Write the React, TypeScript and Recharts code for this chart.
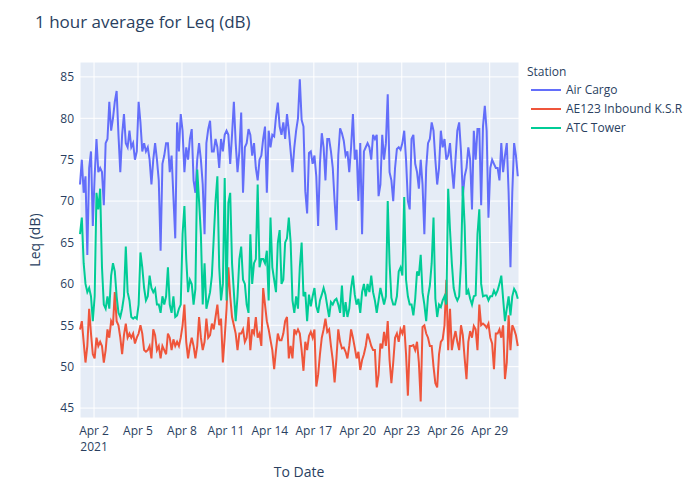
import { LineChart, Line, XAxis, YAxis, CartesianGrid } from 'recharts';

// hourly Leq readings, sampled every 3 h from Apr 1 01:00 (8 values per day)
const airCargo = [
  72, 75, 71, 73, 63.5, 74, 76, 67,
  73, 77.5, 73.5, 74, 73.5, 69.5, 77, 77.5,
  82, 78.5, 80, 82, 83.3, 78, 73.5, 78,
  80.5, 77, 76.5, 78.5, 76.5, 77, 75, 76,
  82, 79.5, 76, 77, 76, 76.5, 75, 72,
  75, 77, 75, 72.5, 64, 74.5, 75.5, 77,
  77, 73.5, 75.5, 70.5, 65.5, 79.5, 76, 80.5,
  78.5, 73.5, 76.5, 75, 77.5, 78.7, 72.5, 71,
  75, 77, 75, 72, 66, 77, 78.7, 79.7,
  76, 76, 77.5, 76.5, 74, 77.5, 76, 78,
  78.5, 78, 74.5, 78, 82, 77, 73.5, 76,
  80.7, 71, 76.5, 77, 78.7, 78, 75.5, 77,
  74, 72.5, 75, 75.5, 77.5, 79, 71, 78.5,
  76.5, 78, 77.8, 80.2, 81.9, 79, 78, 79.5,
  77.5, 80.5, 78.5, 76, 73.5, 76.5, 78.5, 80,
  84.7, 79.8, 79, 71.2, 68.5, 75.8, 76, 74.5,
  75.5, 73, 67, 74.5, 78.2, 76.5, 72.5, 77.5,
  77.5, 76, 74, 70, 66.5, 75.5, 78.8, 78.2,
  77.3, 75.5, 76, 73.5, 76.5, 80.5, 75, 76.2,
  70, 77, 66, 76, 76.5, 77, 76.5, 75,
  78, 77.5, 78, 70.6, 72, 78, 75, 77,
  82.9, 73.5, 72.5, 70, 74, 76.3, 76.5, 76.2,
  77, 78.5, 75, 70, 69, 77.5, 78, 74.5,
  73.5, 71.5, 75, 72, 66, 74, 77, 77.5,
  79.5, 78.5, 75, 72, 74, 78.5, 76.5, 77.5,
  75, 75.5, 77, 74, 71.5, 75, 78.5, 79.5,
  76, 70.6, 73, 74, 76.5, 75, 69, 78.5,
  75, 78.7, 78.7, 69.5, 79, 81.5, 78.5, 68,
  74, 75, 74.5, 74, 74, 72.5, 77, 73.5,
  75.5, 77, 71, 62, 71, 77, 75.5, 73,
];

const ae123 = [
  54.5, 55.5, 53, 50.5, 52.5, 57, 54, 51.5,
  51, 53.5, 52.5, 53, 52.5, 50.5, 52, 54.5,
  53.5, 55.5, 55, 59, 55.5, 55, 53.5, 51.5,
  53.8, 55.2, 53.5, 54, 53.5, 54, 52.8, 53.5,
  54, 55, 54, 52, 51.8, 52, 52.5, 51,
  54.5, 53.8, 52, 52.5, 51, 52.5, 52, 51.5,
  54, 53.5, 52, 53.3, 52.5, 53, 52.5, 53.5,
  55, 57.5, 53, 51, 52.5, 53.5, 52.5, 51,
  52.5, 56, 53.5, 52, 53, 55.8, 53.5, 53.8,
  55.2, 54.5, 56, 57.5, 55, 55.8, 50.5, 53.5,
  57, 62, 58.5, 56, 55, 54, 52, 54,
  54, 54.5, 53, 53.5, 56, 52, 54.5, 54,
  56, 53.5, 54, 52.5, 59.5, 57.5, 55.5, 54.5,
  53.2, 52, 49.7, 52, 54, 53.2, 53.2, 54,
  55.5, 56, 51, 52.5, 51, 54.5, 54, 54.5,
  54, 52, 49.5, 53, 52, 53.7, 54.2, 53.5,
  54.5, 47.6, 49, 51.5, 53.5, 54.5, 55.8, 54.2,
  54.5, 52.5, 50.8, 48.1, 51, 54.5, 53, 52.2,
  52.3, 51.8, 51, 52.5, 54.5, 53.5, 52.3, 51,
  51.8, 49.6, 50.8, 51.5, 52.5, 54, 53.3, 52.5,
  52, 52, 47.5, 49, 52.8, 52.2, 54.2, 52.5,
  55.5, 50.8, 48, 50.5, 53.5, 54, 53, 54.5,
  54, 55, 51.5, 46.5, 52.5, 52.5, 52.6, 52,
  53, 50.5, 45.8, 54.8, 55, 54, 53.5, 52.5,
  52.5, 50, 48, 47.5, 51.5, 53, 53.3, 55,
  60.5, 52, 57, 52, 53.3, 54.3, 53, 52,
  55, 53.8, 51, 48.5, 53, 54.3, 53.5, 54.9,
  54.5, 52, 57.5, 55, 55.2, 55, 54.7, 55.2,
  53.5, 52.8, 49.7, 54, 54, 54.5, 53.5, 55,
  48.5, 50.5, 56.2, 52, 55, 54.5, 53.8, 52.5,
];

const atcTower = [
  66, 68, 62.5, 60, 59, 59.5, 58.5, 55.5,
  58.5, 71, 69, 71.5, 62, 57.5, 57, 58.5,
  57, 61, 62.5, 61.5, 58.5, 56.5, 56, 57,
  58.5, 64.5, 59, 58, 56, 55.8, 56, 55.8,
  57.5, 63.8, 62, 59.5, 58, 58.5, 61, 59.5,
  59, 59.4, 57.5, 57.5, 56.5, 58.5, 57.5, 58.5,
  62, 57.5, 56.5, 58.5, 56, 56.2, 57, 57.5,
  66, 69.4, 63, 59, 60.5, 60, 57.5, 59.4,
  73.8, 70, 66, 57.5, 62.5, 57, 58, 59,
  61, 65.5, 70, 73, 62, 58, 60, 72.8,
  58, 69.8, 71, 62.5, 59, 55.5, 58.5, 63,
  64.5, 60.5, 60, 57.5, 56.5, 66, 60, 62.5,
  63, 72, 62, 63, 63, 62.5, 64, 58,
  68, 62, 60.5, 59, 65, 66.5, 60, 60.5,
  65, 65.5, 68, 65, 58, 56.5, 58.5, 57,
  62, 65, 58.5, 59, 55.5, 58.7, 57.3, 58.5,
  59.5, 57.3, 56.5, 58, 58.7, 59.5, 58.7, 57.3,
  56, 57.8, 57.5, 58, 58.2, 57.5, 56.5, 59.8,
  56, 57.8, 56, 57, 59.5, 61, 58.7, 57.5,
  58.2, 56.5, 59, 60, 58.5, 60, 59, 61,
  59, 58, 56.5, 58, 59.5, 58.5, 57.5, 58.5,
  70, 62.5, 58.3, 57.5, 57.5, 58.5, 61.5, 62,
  61, 70.5, 60.5, 58.5, 57.5, 57.5, 56.2, 58.2,
  61.5, 61, 63.5, 59, 57.5, 55.5, 58.5, 59.8,
  62.5, 68, 58.2, 56, 57.5, 57.2, 58, 58.5,
  57.5, 71.5, 66.5, 62.5, 59.5, 58.5, 58, 58.5,
  62.5, 71.8, 67, 58.7, 59.2, 58.2, 57.5, 58.5,
  58.6, 66, 69, 60, 58.5, 58.6, 58.6, 58,
  58.5, 58.5, 59.2, 58.7, 59.2, 60, 61, 58.2,
  55.5, 57, 58.5, 56.2, 58.5, 59.4, 59, 58.2,
];

const START_HOUR = 1; // Apr 1 01:00, hours counted from Apr 1 00:00
const STEP_HOURS = 3;

const xTickDays = [2, 5, 8, 11, 14, 17, 20, 23, 26, 29];
const xTickLabels = ['Apr 2', 'Apr 5', 'Apr 8', 'Apr 11', 'Apr 14', 'Apr 17', 'Apr 20', 'Apr 23', 'Apr 26', 'Apr 29'];
const yTicks = [45, 50, 55, 60, 65, 70, 75, 80, 85];

const SERIES = [
  { key: 'airCargo', name: 'Air Cargo', color: '#636efa' },
  { key: 'ae123', name: 'AE123 Inbound K.S.R', color: '#ef553b' },
  { key: 'atcTower', name: 'ATC Tower', color: '#00cc96' },
];

const rows = airCargo.map((v, i) => ({
  t: START_HOUR + i * STEP_HOURS,
  airCargo: v,
  ae123: ae123[i],
  atcTower: atcTower[i],
}));

const FONT = '"Open Sans", verdana, arial, sans-serif';
const INK = '#2a3f5f';

function DateTick({ x, y, index }: any) {
  return (
    <text x={x} y={y} textAnchor="middle" fill={INK} fontSize={12} fontFamily={FONT}>
      <tspan x={x} dy="0.71em">{xTickLabels[index]}</tspan>
      {index === 0 && <tspan x={x} dy="1.35em">2021</tspan>}
    </text>
  );
}

export default function App() {
  return (
    <div style={{ position: 'absolute', left: 0, top: 0, width: 700, height: 500, background: '#fff', fontFamily: FONT, color: INK }}>
      <div style={{ position: 'absolute', left: 35, top: 11, fontSize: 17, lineHeight: '22px' }}>1 hour average for Leq (dB)</div>

      <LineChart width={700} height={500} data={rows} margin={{ top: 62, right: 181, bottom: 52, left: 20 }}>
        <CartesianGrid fill="#e5ecf6" stroke="#fff" strokeWidth={1} />
        <XAxis
          dataKey="t"
          type="number"
          domain={[1, 720]}
          ticks={xTickDays.map((d) => (d - 1) * 24)}
          interval={0}
          axisLine={false}
          tickLine={false}
          tickSize={0}
          tickMargin={8}
          height={30}
          tick={<DateTick />}
        />
        <YAxis
          type="number"
          domain={[43.8, 86.8]}
          ticks={yTicks}
          allowDataOverflow
          axisLine={false}
          tickLine={false}
          tickSize={0}
          tickMargin={6}
          width={60}
          tick={{ fill: INK, fontSize: 12, fontFamily: FONT }}
        />
        {SERIES.map((s) => (
          <Line
            key={s.key}
            dataKey={s.key}
            name={s.name}
            stroke={s.color}
            strokeWidth={2}
            dot={false}
            type="linear"
            isAnimationActive={false}
          />
        ))}
      </LineChart>

      <div style={{ position: 'absolute', left: 34, top: 240, fontSize: 14, transform: 'translate(-50%, -50%) rotate(-90deg)', whiteSpace: 'nowrap' }}>Leq (dB)</div>
      <div style={{ position: 'absolute', left: 299, top: 471, fontSize: 14, transform: 'translate(-50%, -50%)', whiteSpace: 'nowrap' }}>To Date</div>

      <div style={{ position: 'absolute', left: 527, top: 63, fontSize: 12 }}>
        <div style={{ height: 17, lineHeight: '17px' }}>Station</div>
        {SERIES.map((s) => (
          <div key={s.key} style={{ display: 'flex', alignItems: 'center', height: 19, marginLeft: 4 }}>
            <svg width={30} height={4} style={{ marginRight: 5 }}>
              <line x1={0} y1={2} x2={30} y2={2} stroke={s.color} strokeWidth={2} />
            </svg>
            <span>{s.name}</span>
          </div>
        ))}
      </div>
    </div>
  );
}
